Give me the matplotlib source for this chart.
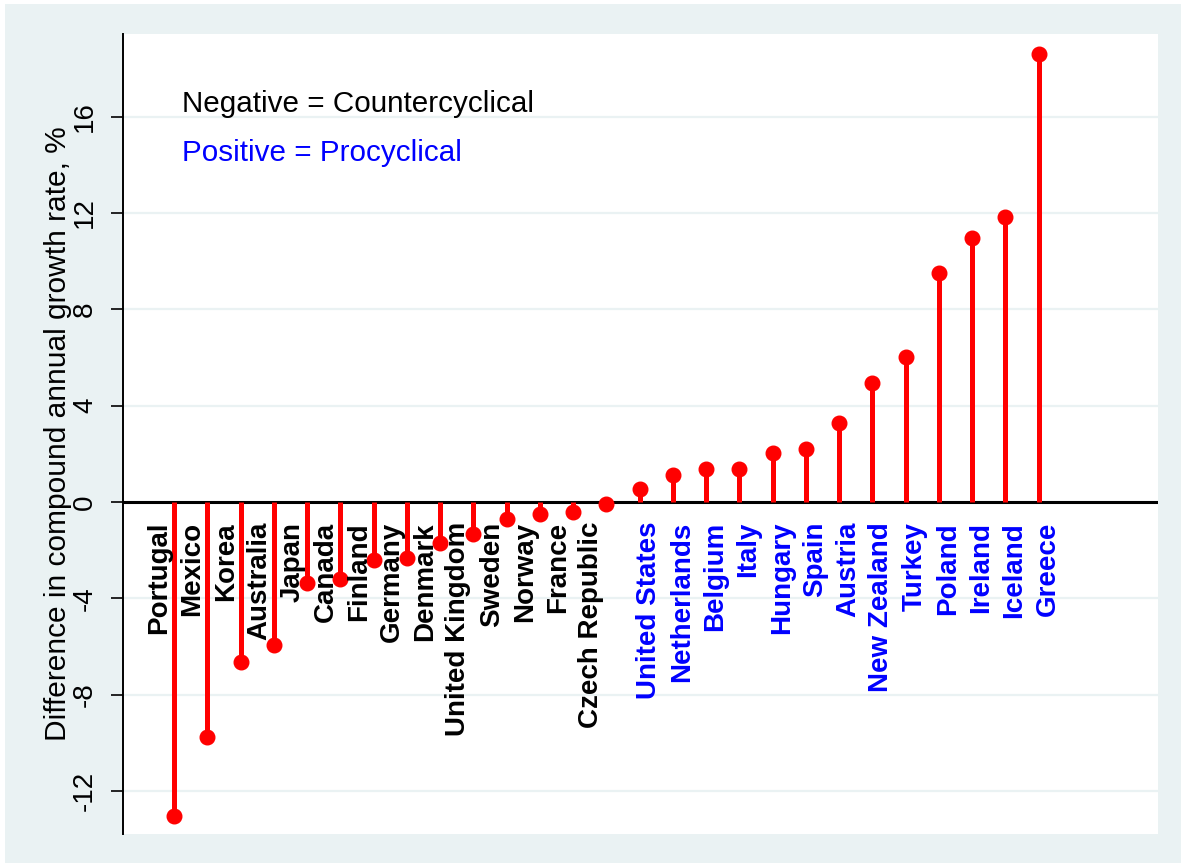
import numpy as np
import matplotlib.pyplot as plt
from matplotlib.patches import Rectangle

countries = ["Portugal", "Mexico", "Korea", "Australia", "Japan", "Canada", "Finland",
             "Germany", "Denmark", "United Kingdom", "Sweden", "Norway", "France",
             "Czech Republic", "United States", "Netherlands", "Belgium", "Italy",
             "Hungary", "Spain", "Austria", "New Zealand", "Turkey", "Poland",
             "Ireland", "Iceland", "Greece"]
diff = [-13.03, -9.75, -6.63, -5.95, -3.38, -3.2, -2.41,
        -2.34, -1.69, -1.33, -0.72, -0.51, -0.43,
        -0.08, 0.53, 1.12, 1.36, 1.36,
        2.02, 2.2, 3.27, 4.95, 6.03, 9.51,
        10.95, 11.84, 18.6]
yticks = [-12, -8, -4, 0, 4, 8, 12, 16]

plt.rcParams['font.family'] = ['Liberation Sans', 'DejaVu Sans']
bg = "#EAF2F3"

fig = plt.figure(figsize=(11.81, 8.63), dpi=100)
fig.patch.set_facecolor("white")
fig.patches.append(Rectangle((5/1181, 0), 1, 1 - 4/863, transform=fig.transFigure,
                             facecolor=bg, edgecolor="none", zorder=-10))
ax = fig.add_axes([123/1181, 1 - 834/863, (1158 - 123)/1181, (834 - 34)/863])
ax.set_facecolor("white")

x = np.arange(len(countries))
ax.set_xlim(-1.54, 29.59)
ax.set_ylim(-13.79, 19.43)

for t in yticks:
    ax.axhline(t, color=bg, lw=1.6, zorder=0)
ax.axhline(0, color="black", lw=2.2, zorder=1)

ax.vlines(x, 0, diff, color="red", lw=3.6, zorder=2)
ax.plot(x, diff, "o", color="red", markersize=10.5, zorder=3)

# negative labels sit left of the stem, positive ones right of it
for i, (name, v) in enumerate(zip(countries, diff)):
    if v < 0:
        ax.annotate(name, (i, 0), xytext=(-2, -20), textcoords="offset pixels",
                    rotation=90, ha="right", va="top", fontsize=20,
                    fontweight="bold", color="black")
    else:
        ax.annotate(name, (i, 0), xytext=(-4, -20), textcoords="offset pixels",
                    rotation=90, ha="left", va="top", fontsize=20,
                    fontweight="bold", color="blue")

ax.text(182/1181, 1 - 104/863, "Negative = Countercyclical", transform=fig.transFigure,
        fontsize=21.3, va="center", ha="left", color="black")
ax.text(182/1181, 1 - 153/863, "Positive = Procyclical", transform=fig.transFigure,
        fontsize=21.3, va="center", ha="left", color="blue")

ax.set_yticks(yticks)
ax.set_yticklabels([str(t) for t in yticks], rotation=90, va="center", fontsize=20)
ax.tick_params(axis="y", length=9, width=1.2, pad=9)
ax.set_xticks([])
ax.set_ylabel("Difference in compound annual growth rate, %", fontsize=21.5, labelpad=0)
for s in ["top", "right", "bottom"]:
    ax.spines[s].set_visible(False)
ax.spines["left"].set_linewidth(1.4)

fig.savefig("out.png", dpi=100)
